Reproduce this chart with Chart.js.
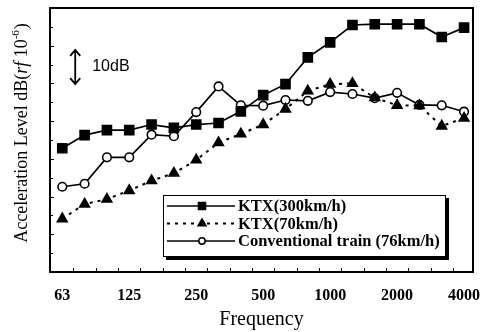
<!DOCTYPE html>
<html><head><meta charset="utf-8">
<script src="https://cdn.jsdelivr.net/npm/chart.js@4"></script>
<style>html,body{margin:0;padding:0;background:#fff;overflow:hidden}</style>
</head><body>
<canvas id="c" width="481" height="332" style="width:481px;height:332px;display:block"></canvas>
<script>
// 1/3-octave band centre frequencies (Hz)
const bands = ['63','80','100','125','160','200','250','315','400','500','630','800','1000','1250','1600','2000','2500','3150','4000'];
const tickLabels = ['63','125','250','500','1000','2000','4000'];
// Acceleration level, dB re 1e-6 (relative scale, 10 dB per major division)
const ktx300 = [32.8, 36.3, 37.6, 37.6, 39.1, 38.2, 39.1, 39.5, 42.6, 46.9, 49.8, 56.9, 60.9, 65.5, 65.7, 65.7, 65.7, 62.3, 64.8];
const ktx70  = [14.1, 18.0, 19.3, 21.6, 24.2, 26.2, 29.7, 34.3, 36.6, 39.1, 43.2, 48.0, 49.8, 50.0, 46.2, 44.2, 44.1, 38.7, 40.8];
const conv   = [22.6, 23.4, 30.4, 30.4, 36.4, 36.0, 42.4, 49.2, 44.2, 44.1, 45.6, 45.4, 47.7, 47.2, 46.1, 47.5, 44.3, 44.2, 42.5];
const seriesNames = ['KTX(300km/h)', 'KTX(70km/h)', 'Conventional train (76km/h)'];
const yTitleParts = [['Acceleration Level dB(', 'normal'], ['rf', 'italic'], [' 10', 'normal'], ['-6', 'sup'], [')', 'normal']];
const scaleNote = '10dB';

const SERIF = "'Liberation Serif','Times New Roman',serif";
const pts = arr => arr.map((v, i) => ({x: i, y: v}));

const styles = [
  {pointStyle: 'rect', radius: 6.4, legendRadius: 5, fill: '#000', dash: [], width: 1.7},
  {pointStyle: 'triangle', radius: 5.6, legendRadius: 4.6, fill: '#000', dash: [3, 5], width: 2},
  {pointStyle: 'circle', radius: 4.3, legendRadius: 3.2, fill: '#fff', dash: [], width: 1.7}
];

const decor = {
  id: 'decor',
  afterDatasetsDraw(chart) {
    const ctx = chart.ctx, a = chart.chartArea;
    const xs = chart.scales.x, ys = chart.scales.y;
    ctx.save();
    ctx.strokeStyle = '#000';
    // inner tick marks
    ctx.lineWidth = 1;
    ctx.beginPath();
    for (let i = 0; i < bands.length - 1; i++) {
      const px = Math.round(xs.getPixelForValue(i + 0.5)) + 0.5;
      ctx.moveTo(px, a.bottom); ctx.lineTo(px, a.bottom - 4);
    }
    for (let v = 5; v < 70; v += 5) {
      const py = Math.round(ys.getPixelForValue(v)) + 0.5;
      ctx.moveTo(a.left, py); ctx.lineTo(a.left + (v % 10 === 0 ? 4 : 3), py);
    }
    ctx.stroke();
    // frame
    ctx.lineWidth = 2;
    ctx.strokeRect(a.left, a.top, a.right - a.left, a.bottom - a.top);
    // 10 dB arrow
    const ax = xs.getPixelForValue(0.58);
    const y1 = ys.getPixelForValue(58.9), y2 = ys.getPixelForValue(49.8);
    ctx.lineWidth = 1.8;
    ctx.beginPath();
    ctx.moveTo(ax, y1); ctx.lineTo(ax, y2);
    ctx.moveTo(ax - 5, y1 + 6); ctx.lineTo(ax, y1); ctx.lineTo(ax + 5, y1 + 6);
    ctx.moveTo(ax - 5, y2 - 6); ctx.lineTo(ax, y2); ctx.lineTo(ax + 5, y2 - 6);
    ctx.stroke();
    ctx.fillStyle = '#000';
    ctx.font = "16px 'Liberation Sans', Arial, sans-serif";
    ctx.textBaseline = 'middle';
    ctx.textAlign = 'left';
    ctx.fillText(scaleNote, ax + 17, (y1 + y2) / 2);
    // legend box with shadow
    const L = 163, T = 195, R = 446, B = 257;
    ctx.fillStyle = '#000';
    ctx.fillRect(L + 3, B, R - L, 3);
    ctx.fillRect(R, T + 3, 3, B - T);
    ctx.fillStyle = '#fff';
    ctx.fillRect(L, T, R - L, B - T);
    ctx.lineWidth = 1;
    ctx.strokeStyle = '#000';
    ctx.strokeRect(L + 0.5, T + 0.5, R - L - 1, B - T - 1);
    const rows = [206, 223.5, 241];
    seriesNames.forEach((name, k) => {
      const s = styles[k], y = rows[k];
      ctx.save();
      ctx.strokeStyle = '#000';
      ctx.lineWidth = k === 1 ? 2 : 1.5;
      ctx.setLineDash(s.dash);
      ctx.beginPath(); ctx.moveTo(167, y); ctx.lineTo(235, y); ctx.stroke();
      ctx.setLineDash([]);
      ctx.fillStyle = s.fill; ctx.lineWidth = 1.5;
      Chart.helpers.drawPoint(ctx, {pointStyle: s.pointStyle, radius: s.legendRadius, rotation: 0, borderWidth: 1.5}, 202, y);
      ctx.restore();
      ctx.fillStyle = '#000';
      ctx.font = "bold 16.5px " + SERIF;
      ctx.textBaseline = 'middle';
      ctx.fillText(name, 238, y + 1);
    });
    // y-axis title (mixed styles, rotated)
    const fs = 18;
    const fontFor = st => st === 'italic' ? `italic ${fs}px ${SERIF}` : st === 'sup' ? `${Math.round(fs*0.62)}px ${SERIF}` : `${fs}px ${SERIF}`;
    let total = 0;
    yTitleParts.forEach(([t, st]) => { ctx.font = fontFor(st); total += ctx.measureText(t).width + (st === 'sup' ? 1 : 0); });
    ctx.save();
    ctx.translate(22, 133);
    ctx.rotate(-Math.PI / 2);
    ctx.fillStyle = '#000';
    ctx.textBaseline = 'middle';
    let x = -total / 2;
    yTitleParts.forEach(([t, st]) => {
      ctx.font = fontFor(st);
      ctx.fillText(t, x, st === 'sup' ? -6 : 0);
      x += ctx.measureText(t).width + (st === 'sup' ? 1 : 0);
    });
    ctx.restore();
    ctx.restore();
  }
};

const datasets = [ktx300, ktx70, conv].map((arr, k) => ({
  label: seriesNames[k],
  data: pts(arr),
  borderColor: '#000',
  borderWidth: styles[k].width,
  borderDash: styles[k].dash,
  pointStyle: styles[k].pointStyle,
  pointRadius: styles[k].radius,
  pointBackgroundColor: styles[k].fill,
  pointBorderColor: '#000',
  pointBorderWidth: 1.6,
  tension: 0,
  fill: false
}));

new Chart(document.getElementById('c'), {
  type: 'line',
  data: {datasets},
  options: {
    responsive: false,
    animation: false,
    devicePixelRatio: 1,
    layout: {padding: {left: 0, right: 7, top: 5, bottom: 0}},
    plugins: {legend: {display: false}, tooltip: {enabled: false}},
    scales: {
      x: {
        type: 'linear', min: -0.55, max: 18.4,
        grid: {display: false, drawTicks: false},
        border: {display: false},
        afterBuildTicks: s => { s.ticks = tickLabels.map(l => ({value: bands.indexOf(l)})); },
        ticks: {
          autoSkip: false, maxRotation: 0, padding: 14,
          color: '#000', font: {family: SERIF, size: 16, weight: 'bold'},
          callback: v => bands[v]
        },
        title: {display: true, text: 'Frequency', color: '#000', font: {family: SERIF, size: 20}, padding: {top: 0, bottom: 0}},
        afterFit: s => { s.height = 60; s.paddingLeft = 0; s.paddingRight = 0; }
      },
      y: {
        min: 0, max: 70,
        grid: {display: false, drawTicks: false},
        border: {display: false},
        ticks: {display: false},
        afterFit: s => { s.width = 50; s.paddingTop = 0; s.paddingBottom = 0; }
      }
    }
  },
  plugins: [{id: 'bg', beforeDraw(c) { c.ctx.save(); c.ctx.fillStyle = '#fff'; c.ctx.fillRect(0, 0, c.width, c.height); c.ctx.restore(); }}, decor]
});
</script>
</body></html>
